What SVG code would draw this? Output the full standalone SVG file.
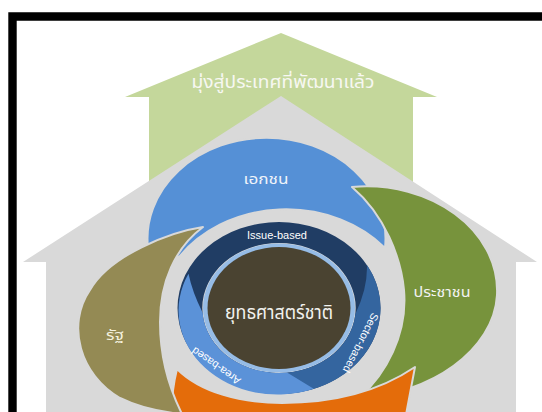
<svg xmlns="http://www.w3.org/2000/svg" width="542" height="412" viewBox="0 0 542 412">
<style>
.th{font-family:'Noto Sans Thai','Noto Sans','DejaVu Sans',sans-serif;text-anchor:middle}
.en{font-family:'Liberation Sans',Arial,sans-serif;font-size:11px;fill:#ffffff;text-anchor:middle;dominant-baseline:central}
.big{stroke:#d9d9d9;stroke-width:2;stroke-linejoin:round}
</style>
<rect width="542" height="412" fill="#ffffff"/>
<g id="goal">
<path d="M281,33 L437,97 L413,97 L413,200 L149,200 L149,97 L125,97 Z" fill="#c4d79b"/>
<text class="th" x="283" y="88" font-size="17" fill="#f7f7f2" textLength="183" lengthAdjust="spacingAndGlyphs">มุ่งสู่ประเทศที่พัฒนาแล้ว</text>
</g>
<g id="house">
<path d="M281,96 L537,262 L516,262 L516,420 L46,420 L46,262 L23,262 Z" fill="#d9d9d9"/>
</g>
<g id="private">
<path class="big" d="M148,248 A119,101 0 1 1 385,248 A130,110 0 0 0 179,257 Z" fill="#5590d6"/>
<text class="th" x="266" y="184" font-size="14" fill="#eef3fa" textLength="45" lengthAdjust="spacingAndGlyphs">เอกชน</text>
</g>
<g id="people">
<path class="big" d="M352,187 C430,180 500,230 497,295 C494,350 430,395 360,397 C385,375 408,335 404,290 C401,258 385,215 352,187 Z" fill="#77933c"/>
<text class="th" x="442" y="297" font-size="14" fill="#f2f2f2" textLength="57" lengthAdjust="spacingAndGlyphs">ประชาชน</text>
</g>
<g id="bottom-arrow">
<path class="big" d="M177,369 C200,392 240,403 282,403 C322,403 372,396 415,367 L405,420 L172,420 C171,400 173,385 177,369 Z" fill="#e46c0a"/>
</g>
<g id="state">
<path class="big" d="M203,227 C170,232 110,255 90,290 C66,325 80,375 120,398 C140,408 160,412 182,414 C170,390 160,360 160,322 C160,282 175,248 203,227 Z" fill="#948a54"/>
<text class="th" x="115" y="340" font-size="14" fill="#f5f1df" textLength="18" lengthAdjust="spacingAndGlyphs">รัฐ</text>
</g>
<g id="rings">
<g transform="translate(279,308) scale(1.18,1)">
<path d="M86,0 A86,86 0 1 1 -86,0 A86,86 0 1 1 86,0 Z M65,0 A65,65 0 1 0 -65,0 A65,65 0 1 0 65,0 Z" fill="#203d64" fill-rule="evenodd"/>
<path d="M74.5,-43 A86,86 0 0 1 -22.3,83.1 L-16.8,62.8 A65,65 0 0 0 64.8,5.7 Q75.3,-20.2 74.5,-43 Z" fill="#34659f"/>
<path d="M-76.7,-34.2 A84,84 0 0 0 29.4,80.8 L6.8,64.6 A65,65 0 0 1 -64.8,4.5 Q-73.4,-15.6 -76.7,-34.2 Z" fill="#5b92d8"/>
</g>
<text class="en" x="277" y="235">Issue-based</text>
<text class="en" transform="translate(361,343) rotate(117)">Sector-based</text>
<text class="en" transform="translate(216,366) rotate(215)">Area-based</text>
</g>
<g id="strategy">
<ellipse cx="279" cy="308" rx="76" ry="64.5" fill="#96bce6"/>
<ellipse cx="279" cy="308" rx="71.5" ry="61" fill="#4a4331"/>
<text class="th" x="279" y="319" font-size="19" fill="#f2f2ee" textLength="108" lengthAdjust="spacingAndGlyphs">ยุทธศาสตร์ชาติ</text>
</g>
<path d="M12.5,420 V16.5 H550" fill="none" stroke="#000000" stroke-width="8.4"/>
</svg>
